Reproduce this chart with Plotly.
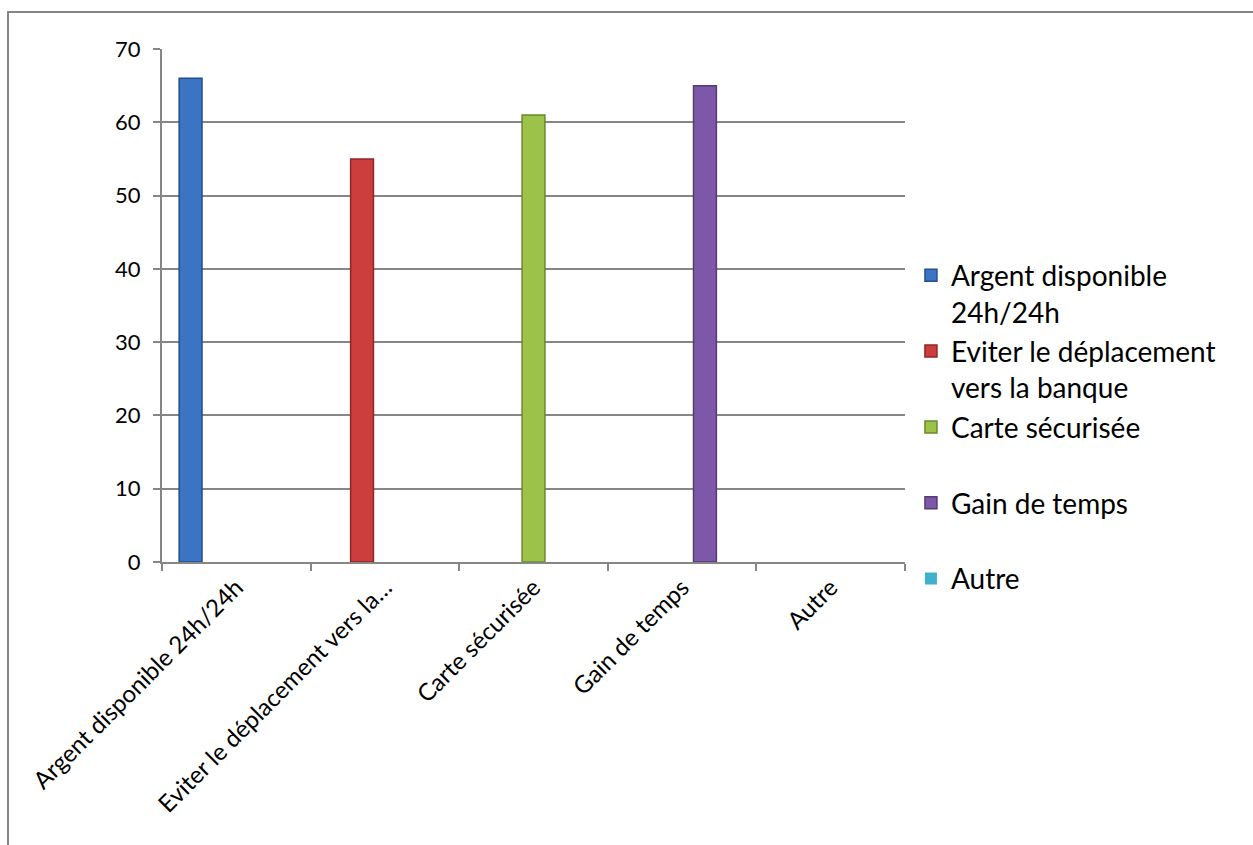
import plotly.graph_objects as go

# Survey answers: one series per reason, each drawn in its own category slot
categories = [
    "Argent disponible 24h/24h",
    "Eviter le déplacement vers la banque",
    "Carte sécurisée",
    "Gain de temps",
    "Autre",
]
tick_labels = [
    "Argent disponible 24h/24h",
    "Eviter le déplacement vers la…",
    "Carte sécurisée",
    "Gain de temps",
    "Autre",
]
legend_names = [
    "Argent disponible<br>24h/24h",
    "Eviter le déplacement<br>vers la banque",
    "Carte sécurisée<br> ",
    "Gain de temps<br> ",
    "Autre<br> ",
]
values = [66, 55, 61, 65, 0]
y_ticks = [0, 10, 20, 30, 40, 50, 60, 70]

fill_colors = ["#3c74c4", "#cc3d3d", "#9cc24a", "#7d58a8", "#3fb1cc"]
edge_colors = ["#244f8c", "#8e2626", "#6a8a2c", "#553a7a", "#267f94"]

FONT = "Lato, 'Open Sans', sans-serif"

fig = go.Figure()
for i, cat in enumerate(categories):
    # each series only has a value in its own category
    ys = [values[i] if j == i else None for j in range(len(categories))]
    fig.add_trace(go.Bar(
        x=categories,
        y=ys,
        name=legend_names[i],
        offsetgroup=str(i),
        marker=dict(
            color=fill_colors[i],
            line=dict(color=edge_colors[i], width=1.5 if values[i] else 0),
        ),
    ))

fig.update_layout(
    width=1253,
    height=845,
    barmode="group",
    bargap=1.5 / 6.5,
    bargroupgap=0,
    paper_bgcolor="white",
    plot_bgcolor="white",
    margin=dict(l=162, r=348, t=49, b=283, autoexpand=False),
    font=dict(family=FONT, color="black", size=22),
    showlegend=True,
    legend=dict(
        x=1.008,
        y=0.607,
        xanchor="left",
        yanchor="top",
        font=dict(size=28, family=FONT, color="black"),
        valign="top",
        bgcolor="rgba(0,0,0,0)",
        itemclick=False,
        tracegroupgap=0,
    ),
    xaxis=dict(
        type="category",
        categoryorder="array",
        categoryarray=categories,
        tickmode="array",
        tickvals=categories,
        ticktext=tick_labels,
        tickangle=-45,
        tickson="boundaries",
        ticks="outside",
        ticklen=7,
        tickwidth=2,
        tickcolor="#868686",
        showline=True,
        linecolor="#868686",
        linewidth=2,
        showgrid=False,
        tickfont=dict(size=24),
    ),
    yaxis=dict(
        range=[0, 70],
        tickmode="array",
        tickvals=y_ticks,
        ticks="outside",
        ticklen=7,
        tickwidth=2,
        tickcolor="#868686",
        showline=True,
        linecolor="#868686",
        linewidth=2,
        showgrid=True,
        gridcolor="#868686",
        gridwidth=2,
        zeroline=False,
        tickfont=dict(size=22),
        ticklabelstandoff=8,
    ),
    shapes=[
        # chart-area frame
        dict(
            type="rect",
            xref="paper", yref="paper",
            x0=(8 - 162) / 743, x1=(1262 - 162) / 743,
            y0=(562 - 860) / 513, y1=(562 - 12) / 513,
            line=dict(color="#868686", width=2),
            fillcolor="rgba(0,0,0,0)",
            layer="below",
        )
    ],
)

fig.write_html("out.html")
